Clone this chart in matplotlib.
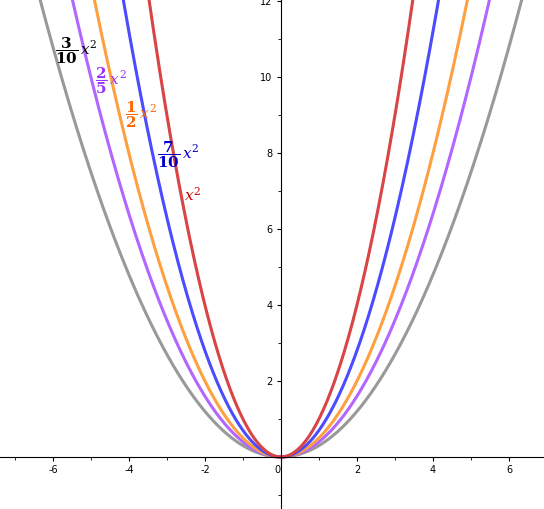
import matplotlib.pyplot as plt
import numpy as np

plt.rcParams['mathtext.fontset'] = 'dejavuserif'

coefs = [0.3, 0.4, 0.5, 0.7, 1.0]
line_colors = ['#999999', '#B266FF', '#FFA040', '#4C4CFF', '#D94444']
label_colors = ['#000000', '#9933FF', '#FF6600', '#0000CC', '#CC0000']
labels = [r'$\mathbf{\dfrac{3}{10}}\,\boldsymbol{x^2}$', r'$\mathbf{\dfrac{2}{5}}\,\boldsymbol{x^2}$',
          r'$\mathbf{\dfrac{1}{2}}\,\boldsymbol{x^2}$', r'$\mathbf{\dfrac{7}{10}}\,\boldsymbol{x^2}$',
          r'$\boldsymbol{x^2}$']
label_pos = [(-5.95, 10.7), (-4.9, 9.9), (-4.1, 9.0), (-3.25, 7.95), (-2.55, 6.9)]
xticks = [-6, -4, -2, 0, 2, 4, 6]
yticks = [2, 4, 6, 8, 10, 12]

fig = plt.figure(figsize=(5.44, 5.09), dpi=100)
ax = fig.add_axes([0, 0, 1, 1])
ax.set_xlim(-7.39, 6.92)
ax.set_ylim(-1.37, 12.03)

x = np.linspace(-7.4, 7, 800)
for c, col in zip(coefs, line_colors):
    ax.plot(x, c * x**2, color=col, lw=2.2)

for (lx, ly), lab, col in zip(label_pos, labels, label_colors):
    ax.text(lx, ly, lab, color=col, fontsize=11, va='center', ha='left')

ax.spines['left'].set_position(('data', 0))
ax.spines['bottom'].set_position(('data', 0))
ax.spines['right'].set_visible(False)
ax.spines['top'].set_visible(False)
for s in ['left', 'bottom']:
    ax.spines[s].set_linewidth(0.8)
ax.set_xticks(xticks)
ax.set_xticklabels(['0' if t == 0 else str(t) for t in xticks])
ax.set_yticks(yticks)
ax.tick_params(axis='both', labelsize=7, length=3, direction='out', pad=3)
ax.set_xticks(np.arange(-7, 7, 1), minor=True)
ax.set_yticks(np.arange(-1, 13, 1), minor=True)
ax.tick_params(which='minor', length=2)
for lbl in ax.get_xticklabels():
    if lbl.get_text() == '0':
        lbl.set_ha('right')

fig.savefig('out.png', dpi=100)
